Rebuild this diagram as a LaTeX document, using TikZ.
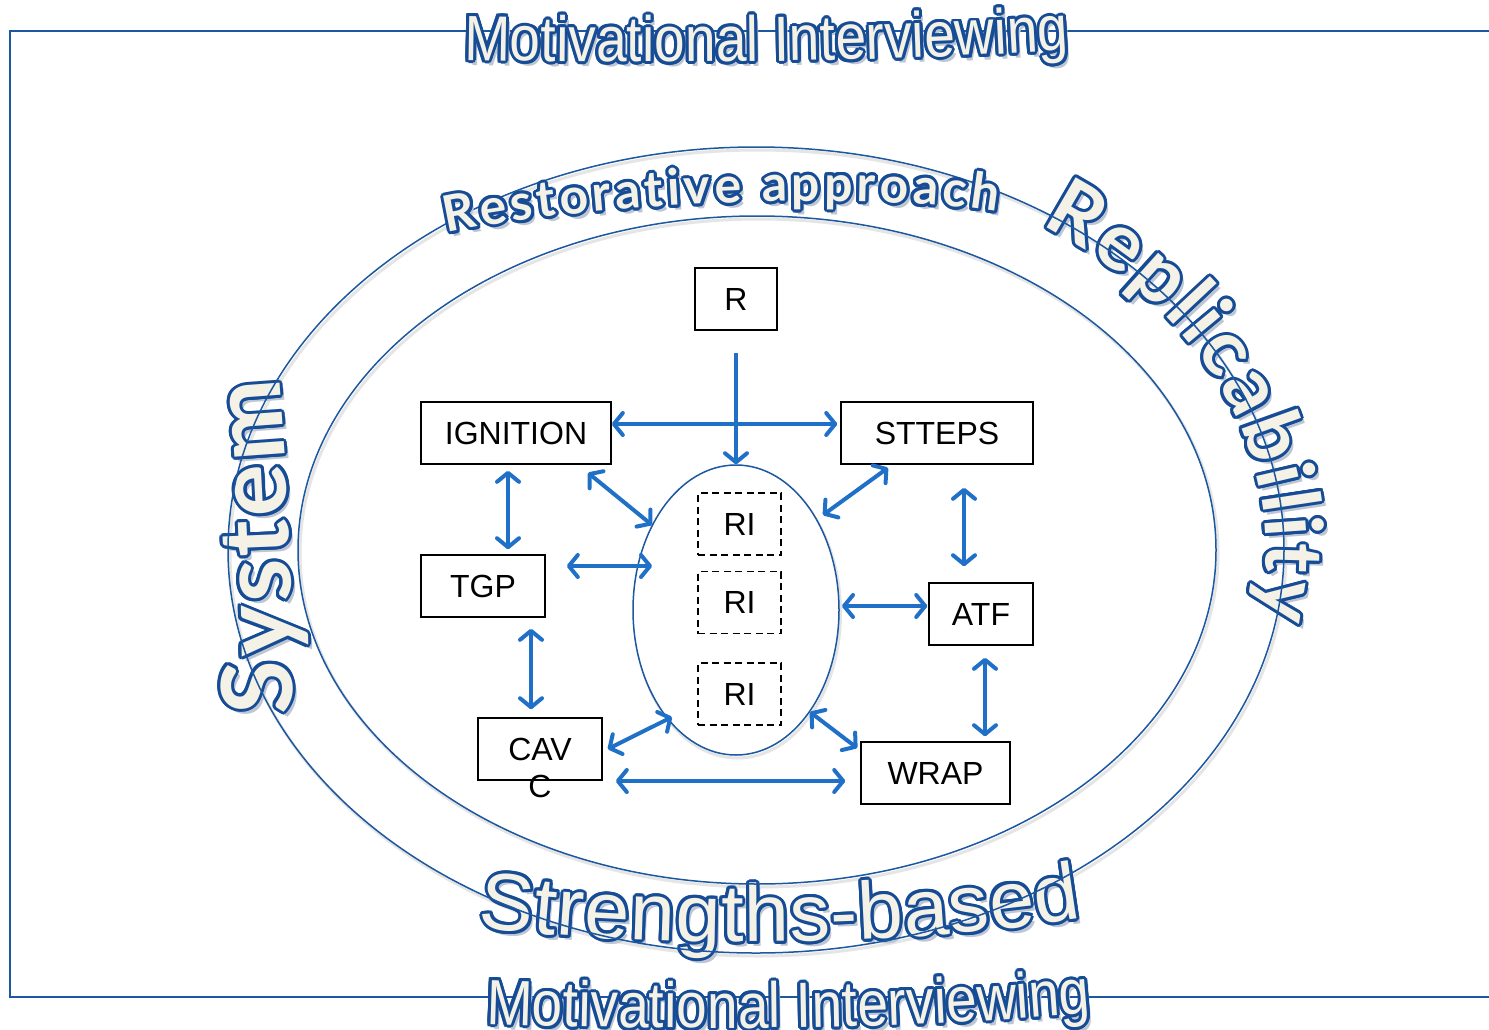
\documentclass[tikz,border=0pt]{standalone}
\usepackage{fontspec}
\setmainfont{Liberation Sans}
\newfontfamily\miFont[FakeStretch=0.86]{Liberation Sans}
\newfontfamily\huFont{Lato}
\usetikzlibrary{arrows.meta,decorations.text,shapes.geometric,calc}

\definecolor{outblue}{RGB}{22,76,150}
\definecolor{cream}{RGB}{244,241,230}
\definecolor{shade}{RGB}{190,198,212}
\definecolor{ringblue}{RGB}{28,88,160}
\definecolor{arrowblue}{RGB}{32,112,200}

\newcommand\fntMI{\miFont\fontsize{64pt}{66pt}\selectfont}
\newcommand\fntSB{\fontsize{81pt}{84pt}\selectfont}
\newcommand\fntRA{\huFont\bfseries\fontsize{50pt}{54pt}\selectfont}
\newcommand\fntRP{\huFont\bfseries\fontsize{80pt}{84pt}\selectfont}
\newcommand\fntSY{\huFont\bfseries\fontsize{98pt}{100pt}\selectfont}

\newcommand\OutlineText[3]{%
  \path[decorate,decoration={text along path,text align={fit to path},text={|#1\color{shade}|#2}},shift={(4pt,-5pt)}] #3;
  \foreach \oa in {0,22.5,...,337.5}{%
    \path[decorate,decoration={text along path,text align={fit to path},text={|#1\color{outblue}|#2}},shift={(\oa:3pt)}] #3;
  }%
  \path[decorate,decoration={text along path,text align={fit to path},text={|#1\color{cream}|#2}}] #3;
}

\tikzset{
  ring/.style={draw=ringblue, line width=1.5pt},
  ringshadow/.style={draw=black!10, line width=3pt},
  box/.style={draw=black, line width=1.6pt, fill=white, minimum height=62pt, inner sep=0pt, font=\fontsize{32pt}{36pt}\selectfont},
  ribox/.style={box, dash pattern=on 7pt off 4.5pt, minimum width=83pt},
  onearrow/.style={draw=arrowblue, line width=4pt, -{Straight Barb[length=9pt,width=22pt,round]}},
  biarrow/.style={draw=arrowblue, line width=4pt, {Straight Barb[length=9pt,width=22pt,round]}-{Straight Barb[length=9pt,width=22pt,round]}},
}

\begin{document}
\begin{tikzpicture}[x=1pt,y=1pt]
\useasboundingbox (0,0) rectangle (1489,-1029);
\fill[white] (0,0) rectangle (1489,-1029);

% frame
\draw[ring] (1495,-31) -- (10,-31) -- (10,-997) -- (1495,-997);

% ellipse shadows
\draw[ringshadow] (758,-553) ellipse [x radius=528pt, y radius=403pt];
\draw[ringshadow] (759,-553) ellipse [x radius=459pt, y radius=334pt];

% texts under the rings
\OutlineText{\fntSB}{Strengths-based}{(478,-927) .. controls (640,-948) and (900,-948) .. (1082,-918)}
\OutlineText{\fntRP}{Replicability}{(1041.2,-225) arc[start angle=56, end angle=-10, x radius=510pt, y radius=392pt]}
\OutlineText{\fntSY}{System}{(292,-714) .. controls (293,-600) and (287,-470) .. (279,-378)}

% rings
\draw[ring] (756,-550) ellipse [x radius=528pt, y radius=403pt];
\draw[ring] (757,-550) ellipse [x radius=459pt, y radius=334pt];

% texts over the rings
\OutlineText{\fntRA}{Restorative approach}{(447,-233) .. controls (600,-200) and (880,-192) .. (997,-212)}
\OutlineText{\fntMI}{Motivational Interviewing}{(464,-60) .. controls (680,-64) and (880,-62) .. (1069,-50)}
\OutlineText{\fntMI}{Motivational Interviewing}{(486,-1024) .. controls (690,-1031) and (900,-1030) .. (1091,-1013)}

% central ellipse
\draw[ringshadow] (737.5,-613) ellipse [x radius=103pt, y radius=145pt];
\node[ellipse, draw=ringblue, line width=1.5pt, fill=white, minimum width=206pt, minimum height=290pt, inner sep=0pt] (core) at (736,-610) {};

% boxes
\node[box, minimum width=82pt] (R) at (736,-299) {R};
\node[box, minimum width=190pt] (ign) at (516,-433) {IGNITION};
\node[box, minimum width=192pt] (stt) at (937,-433) {STTEPS};
\node[box, minimum width=124pt] (tgp) at (483,-586) {TGP};
\node[box, minimum width=104pt] (atf) at (981,-614) {ATF};
\node[box, minimum width=124pt] (cavc) at (540,-749) {CAV};
\node[font=\fontsize{32pt}{36pt}\selectfont, inner sep=0pt] (cavcC) at (540,-786) {C};
\node[box, minimum width=149pt] (wrap) at (935.5,-773) {WRAP};
\node[ribox] (ri1) at (739.5,-524) {RI};
\node[ribox] (ri2) at (739.5,-602.5) {RI};
\node[ribox] (ri3) at (739.5,-694) {RI};

% arrows
\draw[onearrow] ([yshift=-22pt]R.south) -- (core.north);
\draw[biarrow] ([yshift=9pt]ign.east) -- ([shift={(-3pt,9pt)}]stt.west);
\draw[biarrow] ([shift={(-8pt,-6pt)}]ign.south) -- ([shift={(25pt,5pt)}]tgp.north);
\draw[biarrow] ([shift={(72pt,-8pt)}]ign.south) -- ([shift={(-84pt,85pt)}]core.center);
\draw[biarrow] ([shift={(-49pt,-3pt)}]stt.south) -- ([shift={(87pt,95pt)}]core.center);
\draw[biarrow] ([shift={(27pt,-23pt)}]stt.south) -- ([shift={(-17pt,16pt)}]atf.north);
\draw[biarrow] ([shift={(21pt,20pt)}]tgp.east) -- ([shift={(-84pt,44pt)}]core.center);
\draw[biarrow] ([shift={(106pt,4pt)}]core.center) -- ([shift={(-1pt,8pt)}]atf.west);
\draw[biarrow] ([shift={(48pt,-11pt)}]tgp.south) -- ([shift={(-9pt,8pt)}]cavc.north);
\draw[biarrow] ([shift={(4pt,-12pt)}]atf.south) -- ([shift={(49.5pt,5pt)}]wrap.north);
\draw[biarrow] ([shift={(5pt,0pt)}]cavc.east) -- ([shift={(-64pt,-107pt)}]core.center);
\draw[biarrow] ([shift={(-3pt,25pt)}]wrap.west) -- ([shift={(74pt,-102pt)}]core.center);
\draw[biarrow] ([shift={(13pt,-32pt)}]cavc.east) -- ([shift={(-15pt,-8pt)}]wrap.west);
\end{tikzpicture}
\end{document}
